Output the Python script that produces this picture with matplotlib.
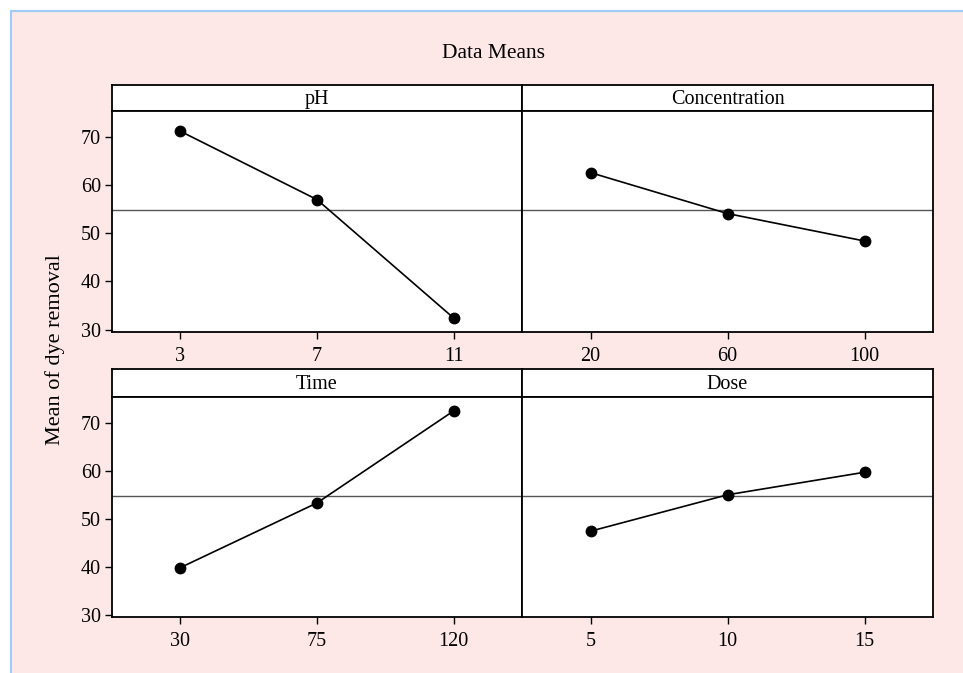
import matplotlib
matplotlib.use("Agg")
import matplotlib.pyplot as plt
from matplotlib.patches import Rectangle
from matplotlib.lines import Line2D

# ---- data ----
factors = ["pH", "Concentration", "Time", "Dose"]
levels_pH = ["3", "7", "11"]
means_pH = [71.2, 57.0, 32.4]
levels_conc = ["20", "60", "100"]
means_conc = [62.6, 54.1, 48.4]
levels_time = ["30", "75", "120"]
means_time = [39.8, 53.3, 72.5]
levels_dose = ["5", "10", "15"]
means_dose = [47.4, 55.0, 59.7]
grand_mean = 54.8
y_ticks = [30, 40, 50, 60, 70]

W, H = 963, 673
plt.rcParams["font.family"] = ["Liberation Serif", "DejaVu Serif"]
fig = plt.figure(figsize=(W / 100, H / 100), dpi=100, facecolor="white")

def fx(px):
    return px / W

def fy(py):
    return 1 - py / H

# background with blue border on left/top
bg = Rectangle((fx(11), 0), 1 - fx(11), fy(11), transform=fig.transFigure,
               facecolor="#FDE8E7", edgecolor="none", zorder=-10)
fig.add_artist(bg)
fig.add_artist(Line2D([fx(11), fx(11)], [0, fy(11)], transform=fig.transFigure,
                      color="#9FCBFA", lw=1.5))
fig.add_artist(Line2D([fx(11), 1], [fy(11), fy(11)], transform=fig.transFigure,
                      color="#9FCBFA", lw=1.5))

cols = [(112, 522), (522, 933)]
rows = [(85, 111, 332), (369, 397, 617)]

panel_data = [
    (factors[0], levels_pH, means_pH),
    (factors[1], levels_conc, means_conc),
    (factors[2], levels_time, means_time),
    (factors[3], levels_dose, means_dose),
]

for i, (name, levels, means) in enumerate(panel_data):
    r, c = divmod(i, 2)
    x0, x1 = cols[c]
    st, sb, ab = rows[r]
    # strip
    sax = fig.add_axes([fx(x0), fy(sb), fx(x1) - fx(x0), fy(st) - fy(sb)])
    sax.set_facecolor("white")
    sax.set_xticks([])
    sax.set_yticks([])
    for s in sax.spines.values():
        s.set_linewidth(1.3)
    sax.text(0.5, 0.45, name, ha="center", va="center", fontsize=14.5,
             transform=sax.transAxes)
    # plot
    ax = fig.add_axes([fx(x0), fy(ab), fx(x1) - fx(x0), fy(sb) - fy(ab)])
    ax.set_facecolor("white")
    ax.axhline(grand_mean, color="#555555", lw=1.0, zorder=1)
    ax.plot(levels, means, color="black", lw=1.2, marker="o", markersize=7.5,
            zorder=3)
    ax.set_xlim(-0.5, 2.5)
    ax.set_ylim(29.5, 75.4)
    for s in ax.spines.values():
        s.set_linewidth(1.3)
    ax.tick_params(axis="x", direction="out", length=5, width=1.0,
                   labelsize=14.5, pad=6)
    if c == 0:
        ax.set_yticks(y_ticks)
        ax.tick_params(axis="y", direction="out", length=5, width=1.0,
                       labelsize=14.5, pad=3)
    else:
        ax.set_yticks([])

fig.text(fx(493), fy(53), "Data Means", ha="center", va="center", fontsize=15.5)
fig.text(fx(55), fy(350), "Mean of dye removal", ha="center", va="center",
         rotation=90, fontsize=16)

fig.savefig("out.png", dpi=100, facecolor=fig.get_facecolor())
